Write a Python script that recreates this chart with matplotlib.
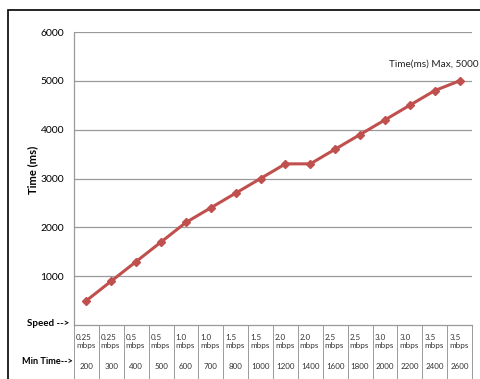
import matplotlib
matplotlib.use("Agg")
import matplotlib.pyplot as plt
from matplotlib.patches import Rectangle

plt.rcParams['font.family'] = ['Lato', 'DejaVu Sans']

# data
speeds = ["0.25", "0.25", "0.5", "0.5", "1.0", "1.0", "1.5", "1.5",
          "2.0", "2.0", "2.5", "2.5", "3.0", "3.0", "3.5", "3.5"]
min_times = [200, 300, 400, 500, 600, 700, 800, 1000,
             1200, 1400, 1600, 1800, 2000, 2200, 2400, 2600]
times = [500, 900, 1300, 1700, 2100, 2400, 2700, 3000,
         3300, 3300, 3600, 3900, 4200, 4500, 4800, 5000]

W, H = 480, 379
fig = plt.figure(figsize=(W / 100, H / 100), dpi=100)

# outer frame (cut off at right/bottom like the source)
fig.patches.append(Rectangle((8 / W, -0.1), 1.2, 1 - 10 / H + 0.1,
                             transform=fig.transFigure, fill=False,
                             edgecolor="black", linewidth=1.2))

left, right, top, bottom = 74, 472, 32, 325
ax = fig.add_axes([left / W, 1 - bottom / H, (right - left) / W, (bottom - top) / H])

n = len(times)
x = list(range(n))
ax.plot(x, times, color="#C0504D", linewidth=2.2, marker="D", markersize=4.5)

ax.set_xlim(-0.5, n - 0.5)
ax.set_ylim(0, 6000)
ax.set_yticks(range(1000, 7000, 1000))
ax.tick_params(axis="y", length=0, labelsize=7.5, pad=7)
ax.set_xticks([])
ax.grid(axis="y", color="#9a9a9a", linewidth=0.9)
for s in ["top", "right"]:
    ax.spines[s].set_visible(False)
ax.spines["left"].set_color("#9a9a9a")
ax.spines["bottom"].set_color("#9a9a9a")
ax.spines["left"].set_linewidth(0.9)
ax.spines["bottom"].set_linewidth(0.9)
ax.set_ylabel("Time (ms)", fontsize=8, fontweight="bold")
ax.yaxis.set_label_coords(-0.09, 0.53)

ax.annotate(f"Time(ms) Max, {times[-1]}", xy=(n - 1, times[-1]), xytext=(14, 10),
            textcoords="offset points", fontsize=7.2, color="#222222", ha="right")

# table under the plot
trans = ax.get_xaxis_transform()
for i in range(n + 1):
    ax.plot([i - 0.5, i - 0.5], [0, -0.19], transform=trans, color="#9a9a9a",
            linewidth=0.7, clip_on=False)
for i in range(n):
    ax.text(i - 0.42, -0.03, speeds[i] + "\nmbps", transform=trans, fontsize=5.8,
            va="top", ha="left", color="#333333", linespacing=1.25)
    ax.text(i, -0.143, str(min_times[i]), transform=trans, fontsize=5.8,
            va="center", ha="center", color="#333333")

fig.text(27 / W, 1 - 323 / H, "Speed -->", fontsize=7, fontweight="bold",
         va="center", ha="left")
fig.text(22 / W, 1 - 361 / H, "Min Time-->", fontsize=6.6, fontweight="bold",
         va="center", ha="left")

fig.savefig("out.png", dpi=100)
